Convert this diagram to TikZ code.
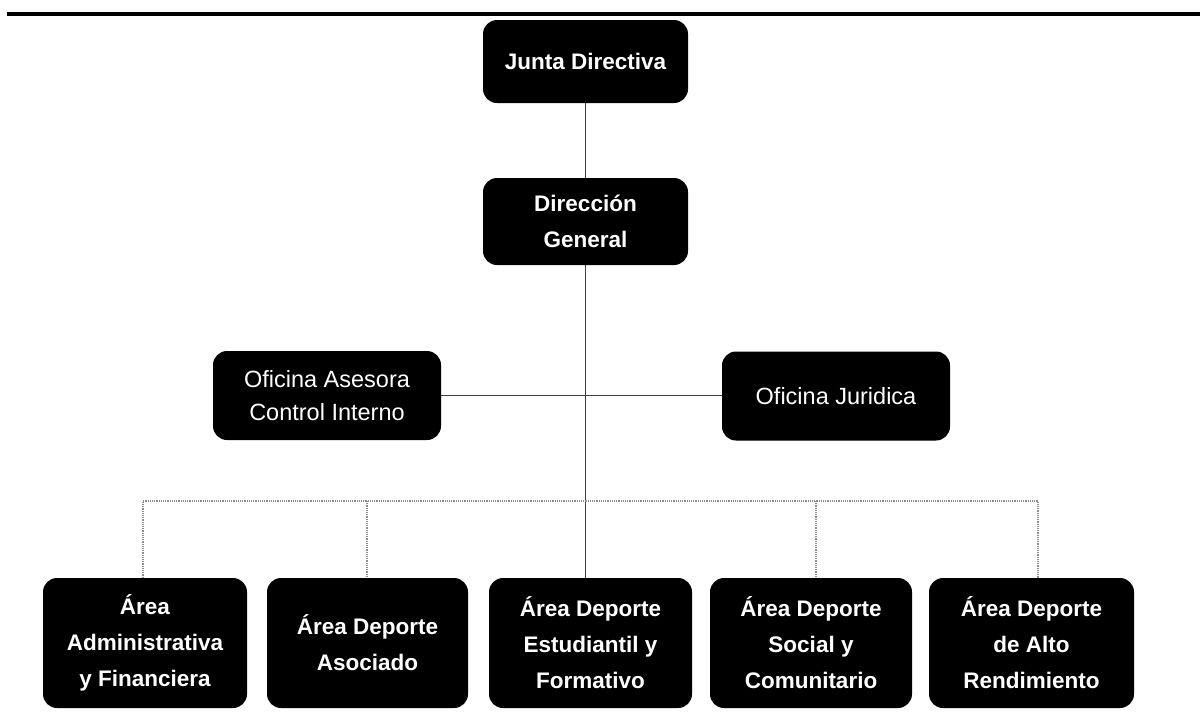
\documentclass[tikz,border=0pt]{standalone}
\usepackage{fontspec}
\setmainfont{Liberation Sans}
\begin{document}
\begin{tikzpicture}[x=1pt,y=-1pt,
  orgbox/.style={fill=black, rounded corners=14pt, text=white, align=center, inner sep=0pt},
  boldtxt/.style={font=\fontsize{22.5}{36}\selectfont\bfseries},
  regtxt/.style={font=\fontsize{23.5}{33}\selectfont},
  solidline/.style={draw=black!75, line width=1.2pt},
  dotline/.style={draw=black!45, line width=1.2pt, densely dotted},
  topline/.style={draw=black, line width=3.5pt}]
\useasboundingbox (0,0) rectangle (1200,713);
% top rule
\coordinate (tl) at (7,14);
\coordinate (tr) at (1200,14);
\draw[topline] (tl) -- (tr);
% boxes
\node[orgbox, boldtxt, minimum width=205pt, minimum height=83pt] (jd) at (585.5,61.5) {Junta Directiva};
\node[orgbox, boldtxt, minimum width=205pt, minimum height=87pt] (dg) at (585.5,221.5) {Dirección\\General};
\node[orgbox, regtxt, minimum width=228pt, minimum height=89pt] (oa) at (327,395.5) {Oficina Asesora\\Control Interno};
\node[orgbox, regtxt, minimum width=228pt, minimum height=89pt] (oj) at (836,396) {Oficina Juridica};
\node[orgbox, boldtxt, minimum width=204pt, minimum height=130pt] (b1) at (145,643) {Área\\Administrativa\\y Financiera};
\node[orgbox, boldtxt, minimum width=201pt, minimum height=130pt] (b2) at (367.5,643) {Área Deporte\\Asociado};
\node[orgbox, boldtxt, minimum width=203pt, minimum height=130pt] (b3) at (590.5,643) {Área Deporte\\Estudiantil y\\Formativo};
\node[orgbox, boldtxt, minimum width=202pt, minimum height=130pt] (b4) at (811,643) {Área Deporte\\Social y\\Comunitario};
\node[orgbox, boldtxt, minimum width=205pt, minimum height=130pt] (b5) at (1031.5,643) {Área Deporte\\de Alto\\Rendimiento};
% solid connectors
\draw[solidline] (jd.south) -- (dg.north);
\draw[solidline] (dg.south) -- (dg.south |- b3.north);
\draw[solidline] (oa.east) -- (oa.east -| oj.west);
% dotted connectors
\coordinate (d1) at (143,501);
\coordinate (d2) at (367,501);
\coordinate (d4) at (816,501);
\coordinate (d5) at (1038,501);
\draw[dotline] (d1 |- b1.north) -- (d1) -- (d5) -- (d5 |- b5.north);
\draw[dotline] (d2) -- (d2 |- b2.north);
\draw[dotline] (d4) -- (d4 |- b4.north);
\end{tikzpicture}
\end{document}
